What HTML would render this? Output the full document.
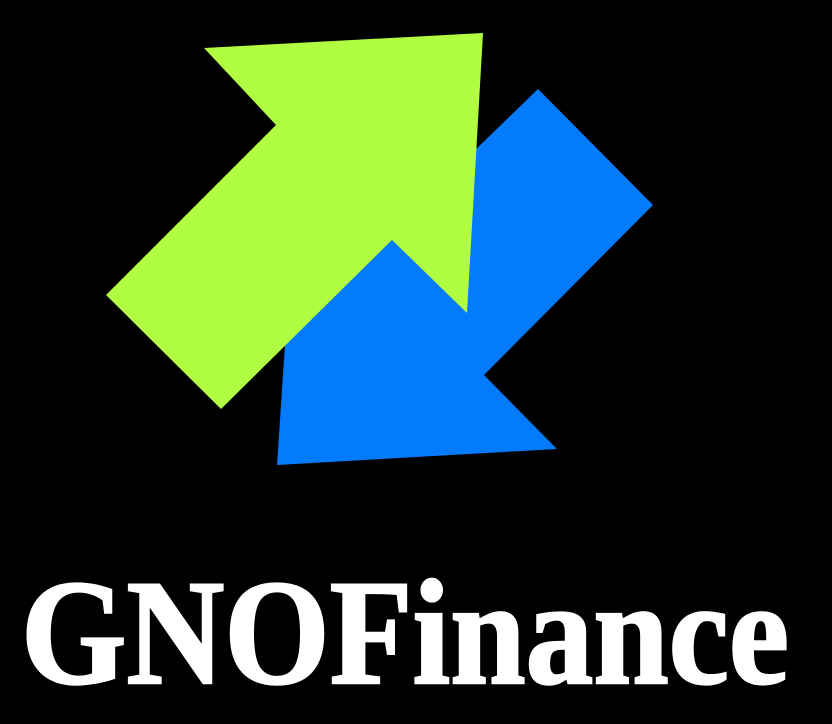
<!DOCTYPE html>
<html><head><meta charset="utf-8"><style>
html,body{margin:0;padding:0;background:#000;width:832px;height:724px;overflow:hidden}
</style></head><body>
<svg width="832" height="724" viewBox="0 0 832 724">
<rect width="832" height="724" fill="#000"/>
<polygon fill="#037bfc"
 points="538,89 653,205 484,375 557,449 277,465 285,345 392,240 470,155"/>
<polygon fill="#b1fd42"
 points="204,48 483,33 467,313 392,240 221,409 106,295 276,125"/>
<text x="21" y="683" fill="#fff" stroke="#fff" stroke-width="2.5"
 font-family="'Liberation Serif', serif" font-weight="bold" font-size="150"
 textLength="768" lengthAdjust="spacingAndGlyphs">GNOFinance</text>
</svg>
</body></html>
